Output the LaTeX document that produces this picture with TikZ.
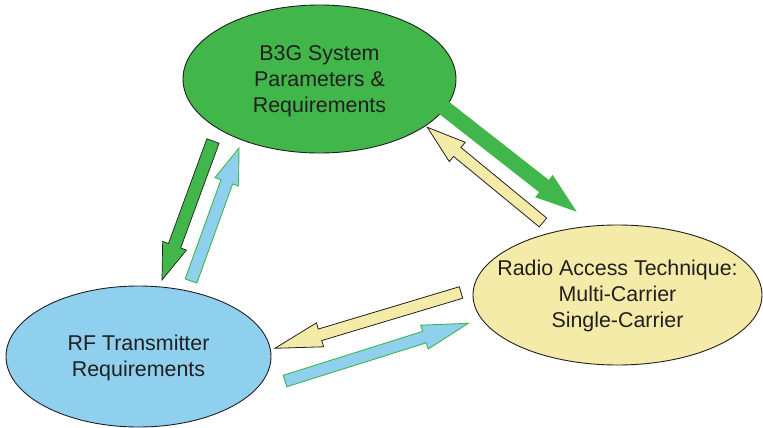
\documentclass[tikz,border=0pt]{standalone}
\usepackage{fontspec}
\setmainfont{Liberation Sans}
\usetikzlibrary{calc,shapes.geometric}

\definecolor{leafgreen}{RGB}{65,182,74}
\definecolor{skyblue}{RGB}{142,208,237}
\definecolor{paleyellow}{RGB}{245,235,168}
\definecolor{inkgray}{RGB}{35,31,32}

\tikzset{
  bubble/.style={ellipse, draw=inkgray, line width=0.9pt, inner sep=0pt},
  bubbletext/.style={align=center, text=inkgray, inner sep=0pt,
    font=\fontsize{21.4pt}{26pt}\selectfont},
  greenblock/.style={fill=leafgreen, draw=inkgray, line width=0.7pt, line join=miter},
  greenbold/.style={fill=leafgreen, draw=none},
  blueblock/.style={fill=skyblue, draw=leafgreen, line width=0.9pt, line join=miter},
  yellowblock/.style={fill=paleyellow, draw=inkgray, line width=0.8pt, line join=miter}
}

% block arrow: #1 style, #2 tail, #3 tip, #4 shaft half-width, #5 head half-width, #6 head length
\newcommand\blockarrow[6]{%
  \coordinate (hb) at ($(#3)!#6!(#2)$);
  \draw[#1] ($(#2)!#4!90:(#3)$) -- ($(hb)!#4!-90:(#2)$) -- ($(hb)!#5!-90:(#2)$)
    -- (#3) -- ($(hb)!#5!90:(#2)$) -- ($(hb)!#4!90:(#2)$)
    -- ($(#2)!#4!-90:(#3)$) -- cycle;
}

\begin{document}
\begin{tikzpicture}[x=1pt, y=-1pt]
\useasboundingbox (0,0) rectangle (763,428);

% the three ellipses
\node[bubble, fill=leafgreen, minimum width=273pt, minimum height=148pt]
  (sys) at (319.5,79) {};
\node[bubble, fill=paleyellow, minimum width=289pt, minimum height=140pt]
  (rat) at (617.5,295) {};
\node[bubble, fill=skyblue, minimum width=265pt, minimum height=141pt]
  (rf) at (138.5,356.5) {};

% their texts
\node[bubbletext] (sysText) at ([yshift=-2pt]sys.center)
  {B3G System\\Parameters \&\\Requirements};
\node[bubbletext] (ratText) at ([yshift=-1pt]rat.center)
  {Radio Access Technique:\\Multi-Carrier\\Single-Carrier};
\node[bubbletext] (rfText) at ([yshift=-1pt]rf.center)
  {RF Transmitter\\Requirements};

% arrow end points
\coordinate (sysrfTail) at (213,141);
\coordinate (sysrfTip)  at (162,280);
\coordinate (rfsysTail) at (191,281);
\coordinate (rfsysTip)  at (239,148);
\coordinate (sysratTail) at (443,107);
\coordinate (sysratTip)  at (576.7,211.7);
\coordinate (ratsysTail) at (543,222.5);
\coordinate (ratsysTip)  at (427.3,127.3);
\coordinate (ratrfTail) at (461,292.5);
\coordinate (ratrfTip)  at (275,348.3);
\coordinate (rfratTail) at (285,381);
\coordinate (rfratTip)  at (468.3,323.3);

% block arrows
\blockarrow{greenblock}{sysrfTail}{sysrfTip}{6.5pt}{12.7pt}{36.5pt}
\blockarrow{blueblock}{rfsysTail}{rfsysTip}{6.2pt}{12.5pt}{36pt}
\blockarrow{greenbold}{sysratTail}{sysratTip}{7.8pt}{14.2pt}{41.6pt}
\blockarrow{yellowblock}{ratsysTail}{ratsysTip}{5.8pt}{12.5pt}{38.8pt}
\blockarrow{yellowblock}{ratrfTail}{ratrfTip}{6pt}{12.5pt}{47pt}
\blockarrow{blueblock}{rfratTail}{rfratTip}{6pt}{12.5pt}{46pt}
\end{tikzpicture}
\end{document}
